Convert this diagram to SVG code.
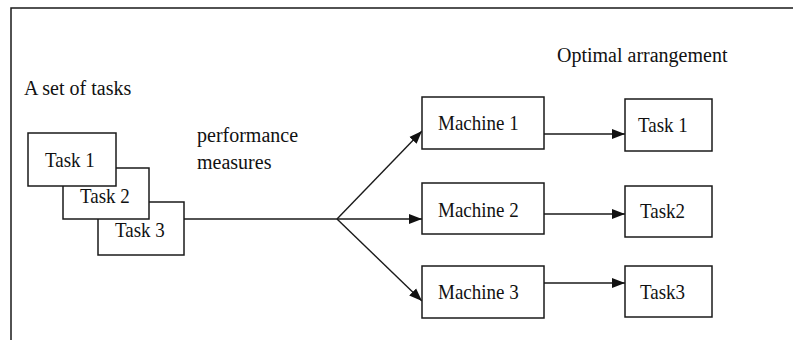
<svg xmlns="http://www.w3.org/2000/svg" width="793" height="340" viewBox="0 0 793 340">
  <defs>
    <style>
      .frame { stroke: #1a1a1a; stroke-width: 1.5; fill: none; }
      .box { fill: #ffffff; stroke: #1a1a1a; stroke-width: 1.5; }
      .wire { stroke: #1a1a1a; stroke-width: 1.4; fill: none; }
      .arrow { marker-end: url(#head); }
      .t { font-family: "Liberation Serif", "Times New Roman", serif; fill: #111111; }
      .lbl { font-size: 20px; }
      .in { font-size: 19px; }
    </style>
    <marker id="head" markerUnits="userSpaceOnUse" markerWidth="14" markerHeight="12" viewBox="0 0 14 12" refX="13" refY="6" orient="auto">
      <path d="M0,1 L13,6 L0,11 Z" fill="#111111"/>
    </marker>
  </defs>

  <rect width="793" height="340" fill="#ffffff"/>

  <!-- page frame: top and left rules only -->
  <path class="frame" d="M11,340 L11,8 L793,8"/>

  <!-- free-standing labels -->
  <text class="t lbl" x="24" y="95">A set of tasks</text>
  <text class="t lbl" x="197" y="142">performance</text>
  <text class="t lbl" x="197" y="169">measures</text>
  <text class="t lbl" x="557" y="62">Optimal arrangement</text>

  <!-- connectors -->
  <g id="connectors">
    <path class="wire" d="M184,219 L337,219"/>
    <path class="wire arrow" d="M337,219 L422,131"/>
    <path class="wire arrow" d="M337,219 L422,219"/>
    <path class="wire arrow" d="M337,219 L422,301"/>
    <path class="wire arrow" d="M538,134 L625,134"/>
    <path class="wire arrow" d="M538,214 L625,214"/>
    <path class="wire arrow" d="M538,283 L625,283"/>
  </g>

  <!-- stacked input tasks, back to front; box labels are set slightly tall -->
  <g id="task3-in">
    <rect class="box" x="98" y="202" width="86" height="53"/>
    <text class="t in" transform="translate(115,237) scale(1,1.12)">Task 3</text>
  </g>
  <g id="task2-in">
    <rect class="box" x="63" y="168" width="86" height="51"/>
    <text class="t in" transform="translate(80,203) scale(1,1.12)">Task 2</text>
  </g>
  <g id="task1-in">
    <rect class="box" x="28" y="133" width="88" height="53"/>
    <text class="t in" transform="translate(45,167) scale(1,1.12)">Task 1</text>
  </g>

  <!-- machines -->
  <g id="machine1">
    <rect class="box" x="422" y="97" width="122" height="52"/>
    <text class="t in" transform="translate(438,130) scale(1,1.12)">Machine 1</text>
  </g>
  <g id="machine2">
    <rect class="box" x="422" y="183" width="122" height="51"/>
    <text class="t in" transform="translate(438,217) scale(1,1.12)">Machine 2</text>
  </g>
  <g id="machine3">
    <rect class="box" x="422" y="266" width="122" height="52"/>
    <text class="t in" transform="translate(438,299) scale(1,1.12)">Machine 3</text>
  </g>

  <!-- resulting assignment -->
  <g id="task1-out">
    <rect class="box" x="625" y="99" width="87" height="52"/>
    <text class="t in" transform="translate(638,132) scale(1,1.12)">Task 1</text>
  </g>
  <g id="task2-out">
    <rect class="box" x="625" y="186" width="87" height="51"/>
    <text class="t in" transform="translate(640,218) scale(1,1.12)">Task2</text>
  </g>
  <g id="task3-out">
    <rect class="box" x="625" y="266" width="87" height="51"/>
    <text class="t in" transform="translate(640,299) scale(1,1.12)">Task3</text>
  </g>
</svg>
